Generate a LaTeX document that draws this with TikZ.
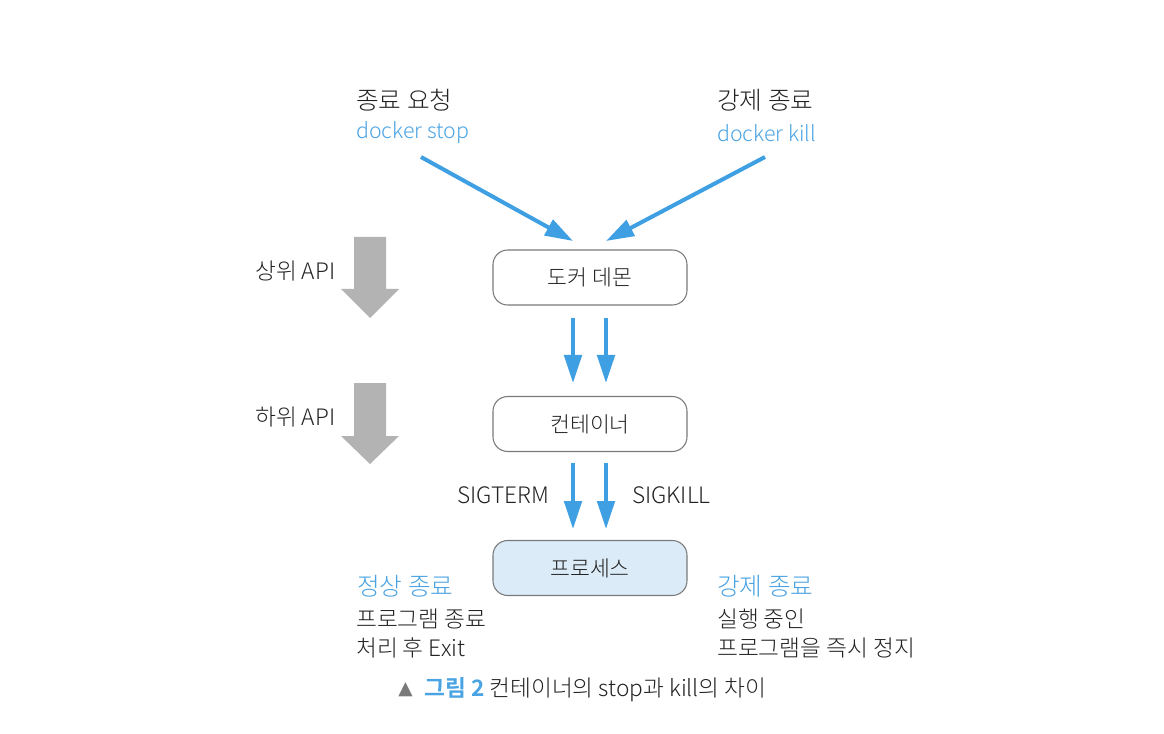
\documentclass[tikz,border=0pt]{standalone}
\usepackage{fontspec}
\setmainfont{Noto Sans CJK KR}[UprightFont=* Light,BoldFont=* Bold]
\newfontfamily\symfont{DejaVu Sans}
\usetikzlibrary{arrows.meta}
\definecolor{ablue}{HTML}{3F9FE3}
\definecolor{tblue}{HTML}{4AA3E2}
\definecolor{agray}{HTML}{B3B3B3}
\definecolor{bgray}{HTML}{7A7A7A}
\definecolor{pfill}{HTML}{DCEBF8}
\definecolor{txt}{HTML}{222222}
\begin{document}
\begin{tikzpicture}[x=0.75pt,y=-0.75pt,
  lbl/.style={anchor=west,inner sep=0pt,font=\fontsize{17}{20}\selectfont,text=txt},
  blbl/.style={lbl,text=tblue,font=\fontsize{16}{19}\selectfont},
  hlbl/.style={lbl,font=\fontsize{18.5}{22}\selectfont},
  tlbl/.style={lbl,text=tblue,font=\fontsize{18.5}{22}\selectfont},
  box/.style={draw=bgray,line width=0.8pt,rounded corners=11pt,minimum width=194*0.75pt,minimum height=55*0.75pt,inner sep=0pt,font=\fontsize{16.2}{19}\selectfont,text=txt},
  flow/.style={draw=ablue,line width=3pt,-{Triangle[length=21pt,width=13pt]}},
  garrow/.style={fill=agray,draw=none}]
\useasboundingbox (0,0) rectangle (1164,734);
% top labels
\node[hlbl] (req) at (356,100) {종료 요청};
\node[blbl] (stop) at (356,133) {docker stop};
\node[hlbl] (force) at (717,100) {강제 종료};
\node[blbl] (kill) at (717,133) {docker kill};
% boxes
\node[box] (daemon) at (590,277.5) {도커 데몬};
\node[box] (cont) at (590,424) {컨테이너};
\node[box,fill=pfill] (proc) at (590,568) {프로세스};
% diagonal arrows
\coordinate (s1) at (421,157);
\coordinate (e1) at (573,241);
\coordinate (s2) at (765,157);
\coordinate (e2) at (606,241);
\draw[flow] (s1) -- (e1);
\draw[flow] (s2) -- (e2);
% vertical arrows
\coordinate (a1) at (573,318);
\coordinate (a2) at (573,383);
\coordinate (b1) at (606,318);
\coordinate (b2) at (606,383);
\draw[flow] (a1) -- (a2);
\draw[flow] (b1) -- (b2);
\coordinate (c1) at (573,463);
\coordinate (c2) at (573,529);
\coordinate (d1) at (606,463);
\coordinate (d2) at (606,529);
\draw[flow] (c1) -- (c2);
\draw[flow] (d1) -- (d2);
% signal labels
\node[lbl] (sigterm) at (457,495) {SIGTERM};
\node[lbl] (sigkill) at (632,495) {SIGKILL};
% gray block arrows
\fill[garrow] (354,237) -- (386,237) -- (386,289) -- (399,289) -- (370,318) -- (341,289) -- (354,289) -- cycle;
\fill[garrow] (354,383) -- (386,383) -- (386,436) -- (399,436) -- (370,464) -- (341,436) -- (354,436) -- cycle;
\node[lbl] (upper) at (255,271) {상위 API};
\node[lbl] (lower) at (255,417) {하위 API};
% bottom descriptions
\node[tlbl] (normal) at (357,586) {정상 종료};
\node[lbl] (n1) at (356,619) {프로그램 종료};
\node[lbl] (n2) at (356,648) {처리 후 Exit};
\node[tlbl] (forced) at (717,586) {강제 종료};
\node[lbl] (f1) at (717,619) {실행 중인};
\node[lbl] (f2) at (717,648) {프로그램을 즉시 정지};
% caption
\node[lbl,text=bgray,font=\fontsize{14}{16}\selectfont\symfont] (tri) at (398,690) {▲};
\node[lbl,anchor=west] (cap) at (424,690) {{\color{tblue}\bfseries 그림 2} 컨테이너의 stop과 kill의 차이};
\end{tikzpicture}
\end{document}
